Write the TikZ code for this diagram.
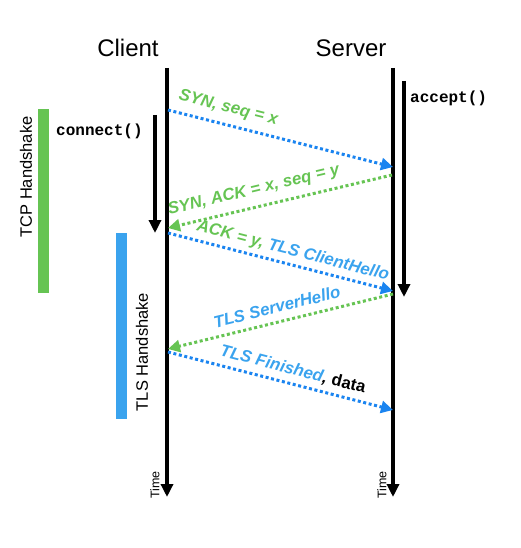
\documentclass[tikz,border=0pt]{standalone}
\usepackage{fontspec}
\setmainfont{Liberation Sans}
\setmonofont{Liberation Mono}
\usepackage{tikz}
\usetikzlibrary{calc,arrows.meta}

\definecolor{tcpgreen}{RGB}{102,196,83}
\definecolor{tlsblue}{RGB}{58,163,238}
\definecolor{msgblue}{RGB}{26,132,240}

\begin{document}
\begin{tikzpicture}[x=1pt,y=-1pt]
            \useasboundingbox (0,0) rectangle (520,548);
            \tikzset{lifeline/.style={line width=4pt,-{Triangle[length=13pt,width=12pt]}}};
            \tikzset{callarrow/.style={line width=3.5pt,-{Triangle[length=13pt,width=12pt]}}};
            \tikzset{MsgStyle/.style={line width=3pt,dash pattern=on 3pt off 2.6pt,-{Triangle[length=12pt,width=12pt]}}};
            \tikzset{msglabel/.style={sloped,inner sep=0pt,font=\fontsize{16.8}{19}\selectfont\bfseries\itshape}};
            \tikzset{sidelabel/.style={rotate=90,font=\fontsize{16.5}{19}\selectfont}};

            \node (client) at (128,48){\fontsize{24}{28}\selectfont Client};
            \node (server) at (351,48){\fontsize{24}{28}\selectfont Server};

            \coordinate (c_top) at (167,68);
            \coordinate (c_bot) at (167,497);
            \coordinate (s_top) at (393,68);
            \coordinate (s_bot) at (393,497);
            \draw[lifeline] (c_top) -- (c_bot);
            \draw[lifeline] (s_top) -- (s_bot);

            \node[rotate=90,font=\fontsize{12.5}{14}\selectfont] (time_c) at (155,485){Time};
            \node[rotate=90,font=\fontsize{12.5}{14}\selectfont] (time_s) at (382,485){Time};

            \fill[tcpgreen] (38,109) rectangle (49,293);
            \fill[tlsblue] (116,233) rectangle (127,419);
            \node[sidelabel] (tcp) at (26,177){TCP Handshake};
            \node[sidelabel] (tls) at (142,352){TLS Handshake};

            \coordinate (conn_a) at (155,115);
            \coordinate (conn_b) at (155,233);
            \draw[callarrow] (conn_a) -- (conn_b);
            \node[anchor=west,inner sep=0pt,font=\fontsize{16}{18}\selectfont\ttfamily\bfseries] (connect) at (56,131){connect()};

            \coordinate (acc_a) at (404,81);
            \coordinate (acc_b) at (404,297);
            \draw[callarrow] (acc_a) -- (acc_b);
            \node[anchor=west,inner sep=0pt,font=\fontsize{16}{18}\selectfont\ttfamily\bfseries] (accept) at (410,98){accept()};

            \coordinate (c_1) at (168,110);
            \coordinate (s_1) at (393,167);
            \coordinate (s_2) at (392,175);
            \coordinate (c_2) at (168,228);
            \coordinate (c_3) at (168,233);
            \coordinate (s_3) at (393,291);
            \coordinate (s_4) at (393,294);
            \coordinate (c_4) at (168,349);
            \coordinate (c_5) at (168,352);
            \coordinate (s_5) at (393,410);

            \draw[MsgStyle,msgblue] (c_1) -- (s_1)
                node[msglabel,pos=0.25,above=7.5pt,text=tcpgreen]{SYN, seq = x};
            \draw[MsgStyle,tcpgreen] (s_2) -- (c_2)
                node[msglabel,pos=0.6,above=7.5pt,text=tcpgreen]{SYN, ACK = x, seq = y};
            \draw[MsgStyle,msgblue] (c_3) -- (s_3)
                node[msglabel,pos=0.54,above=4pt,text=tlsblue]{\textcolor{tcpgreen}{ACK = y,} TLS ClientHello};
            \draw[MsgStyle,tcpgreen] (s_4) -- (c_4)
                node[msglabel,pos=0.5,above=7.5pt,text=tlsblue]{TLS ServerHello};
            \draw[MsgStyle,msgblue] (c_5) -- (s_5)
                node[msglabel,pos=0.54,above=5pt,text=tlsblue]{TLS Finished\textcolor{black}{, \upshape data}};
\end{tikzpicture}
\end{document}
